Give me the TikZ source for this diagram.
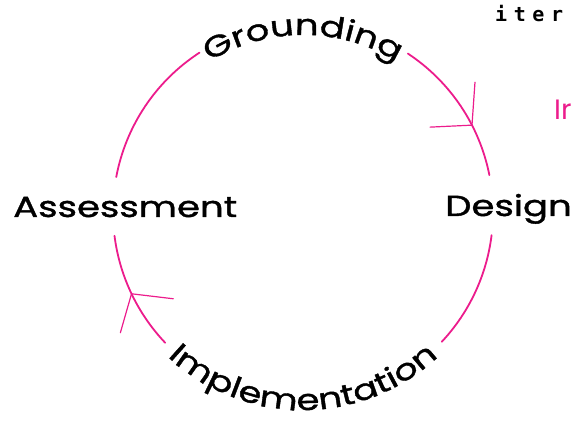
\documentclass[tikz,border=0pt]{standalone}
\usepackage{fontspec}
\setmainfont{Poppins}
\newfontfamily\stagefont{Poppins}[FakeStretch=1.28, FakeBold=1.3]
\newfontfamily\monofont{DejaVu Sans Mono}[LetterSpace=33]
\usetikzlibrary{decorations.text,calc}
\definecolor{cyclepink}{HTML}{EC1C8C}
\begin{document}
\begin{tikzpicture}[x=1pt,y=1pt,
  ring/.style={draw=cyclepink, line width=1.8pt, line cap=round},
  barb/.style={draw=cyclepink, line width=1.2pt, line cap=round},
  stage/.style={inner sep=0pt, font=\stagefont\fontsize{29}{29}\selectfont},
  curved/.style={decorate, decoration={text along path, text align=center,
     text format delimiters={|}{|}}}
]
\useasboundingbox (0,0) rectangle (573,422);
\coordinate (c) at (303,210);
% arcs
\draw[ring] (c) ++(123:190) arc[start angle=123, end angle=169.4, radius=190];
\draw[ring] (c) ++(187.2:190) arc[start angle=187.2, end angle=223.5, radius=190];
\draw[ring] (c) ++(316.9:190) arc[start angle=316.9, end angle=353, radius=190];
\draw[ring] (c) ++(11.2:190) arc[start angle=11.2, end angle=56.5, radius=190];
% arrow heads
\coordinate (tipR) at ($(c)+(27.2:190)$);
\coordinate (tipL) at ($(c)+(205.5:190)$);
\draw[barb] (tipR) -- ++(86:43);
\draw[barb] (tipR) -- ++(182.7:42);
\draw[barb] (tipL) -- ++(-6.8:42);
\draw[barb] (tipL) -- ++(254:40.5);
% labels
\node[stage, anchor=base west] (assess) at (13,205) {Assessment};
\node[stage, anchor=base west] (design) at (445,206) {Design};
\path[curved, decoration={text={|\stagefont\fontsize{29}{29}\selectfont|Grounding}}]
  (c) ++(150:177) arc[start angle=150, end angle=30, radius=177];
\path[curved, decoration={text={|\stagefont\fontsize{29}{29}\selectfont|Implementation}}]
  (c) ++(200:198) arc[start angle=200, end angle=340, radius=198];
\node[anchor=base west, inner sep=0pt, font=\monofont\bfseries\fontsize{20}{20}\selectfont] (iter) at (495,400) {iter};
\node[anchor=base west, inner sep=0pt, text=cyclepink, font=\fontsize{28}{28}\selectfont] (ir) at (554,302) {Ir};
\end{tikzpicture}
\end{document}
